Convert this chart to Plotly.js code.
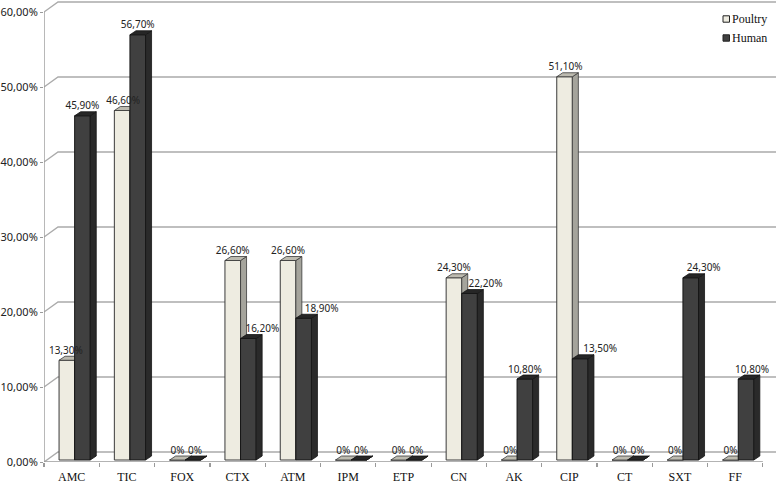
<!DOCTYPE html>
<html><head><meta charset="utf-8">
<script src="https://cdn.plot.ly/plotly-3.0.1.min.js"></script>
<style>html,body{margin:0;padding:0;background:#fff}</style></head>
<body><div id="chart" style="width:778px;height:485px"></div>
<script>
const categories = ["AMC","TIC","FOX","CTX","ATM","IPM","ETP","CN","AK","CIP","CT","SXT","FF"];
const poultry = [13.3,46.6,0,26.6,26.6,0,0,24.3,0,51.1,0,0,0];
const human = [45.9,56.7,0,16.2,18.9,0,0,22.2,10.8,13.5,0,24.3,10.8];
const yTicks = [0,10,20,30,40,50,60];
const yTickLabels = ["0,00%","10,00%","20,00%","30,00%","40,00%","50,00%","60,00%"];
const humanLabelNudge = [0,0,2,14,18,2,2,16,0,20,2,13,6];
const poultryLabelNudge = [-1,1,0,0,0,0,0,0,1,1,0,0,0];

const PXX = 55.3, PXY = 7.5;
const px = v => v / PXX, py = v => v / PXY;
const W = px(15.6), SHIFT = px(3), DX = px(6), DY = py(4), BASE = py(2);
const fmt = v => v === 0 ? "0%" : v.toFixed(2).replace(".", ",") + "%";
const cols = {p:{front:"#EEECE1",side:"#A5A49C",top:"#BDBBB0",line:"#3a3a3a"},
              h:{front:"#404040",side:"#2a2a2a",top:"#262626",line:"#151515"}};
const traces = [];

const gx=[], gy=[];
yTicks.forEach(v => { gx.push(0, px(14), 13.24, null); gy.push(v, v+py(10), v+py(10), null); });
traces.push({type:"scatter",mode:"lines",x:gx,y:gy,line:{color:"#ABABAB",width:1.4},hoverinfo:"skip",showlegend:false});
traces.push({type:"scatter",mode:"lines",x:[0,0,13],y:[60,0,0],line:{color:"#9A9A9A",width:1.4},hoverinfo:"skip",showlegend:false});

function series(vals,name,c,xa,ya,left){
  traces.push({type:"bar",name:name,x:vals.map((_,i)=>i+0.5+left+W/2),y:vals,base:vals.map(()=>BASE),width:W,
    marker:{color:c.front,line:{color:c.line,width:1}},xaxis:xa,yaxis:ya,hoverinfo:"skip",showlegend:false});
  const sx=[],sy=[],tx=[],ty=[];
  vals.forEach((v,i)=>{
    const x0=i+0.5+left, x1=x0+W, t=v+BASE;
    sx.push(x1,x1+DX,x1+DX,x1,x1,null); sy.push(BASE,BASE+DY,t+DY,t,BASE,null);
    tx.push(x0,x0+DX,x1+DX,x1,x0,null); ty.push(t,t+DY,t+DY,t,t,null);
  });
  const poly=(x,y,col)=>traces.push({type:"scatter",mode:"lines",x,y,fill:"toself",fillcolor:col,
    line:{color:c.line,width:0.8},xaxis:xa,yaxis:ya,hoverinfo:"skip",showlegend:false});
  poly(sx,sy,c.side); poly(tx,ty,c.top);
}
series(poultry,"Poultry",cols.p,"x2","y2",SHIFT-W);
series(human,"Human",cols.h,"x3","y3",SHIFT);

function labels(vals,left,nudge){
  traces.push({type:"scatter",mode:"text",x:vals.map((_,i)=>i+0.5+left+W/2+px(nudge[i])),
    y:vals.map(v=>v+BASE+py(4)),text:vals.map(fmt),textposition:"top center",
    textfont:{family:"Noto Sans, sans-serif",size:10,color:"#222"},xaxis:"x3",yaxis:"y3",hoverinfo:"skip",showlegend:false});
}
labels(poultry,SHIFT-W,poultryLabelNudge);
labels(human,SHIFT,humanLabelNudge);

const xr=[0,13.237], yr=[0,61.6];
const hidden = o => Object.assign({range:xr,visible:false,fixedrange:true},o);
const swatch=(y,col)=>({type:"rect",xref:"paper",yref:"paper",x0:(723-44)/732,x1:(729.5-44)/732,y0:(462-y-3.2)/462,y1:(462-y+3.2)/462,
  fillcolor:col,line:{color:"#222",width:1}});
const legendText=(y,t)=>({xref:"paper",yref:"paper",x:(730-44)/732,y:(462-y)/462,text:t,showarrow:false,xanchor:"left",yanchor:"middle",
  font:{family:"Liberation Serif, serif",size:12,color:"#111"}});
const layout = {
  width:778,height:485,margin:{l:44,r:2,t:0,b:23},paper_bgcolor:"#fff",plot_bgcolor:"#fff",
  barmode:"overlay",showlegend:false,
  xaxis:{range:xr,tickvals:categories.map((_,i)=>i+0.5),ticktext:categories,ticks:"",showgrid:false,zeroline:false,showline:false,
    tickfont:{family:"Liberation Serif, serif",size:12,color:"#111"},ticklabelstandoff:6,
    minor:{tickvals:categories.map((_,i)=>i).concat([13]),ticks:"outside",ticklen:4,tickcolor:"#9A9A9A",tickwidth:1.2,showgrid:false},fixedrange:true},
  yaxis:{range:yr,tickvals:yTicks,ticktext:yTickLabels,ticks:"outside",ticklen:3,tickcolor:"#9A9A9A",showgrid:false,zeroline:false,showline:false,
    tickfont:{family:"Noto Sans, sans-serif",size:11,color:"#222"},fixedrange:true},
  xaxis2:hidden({overlaying:"x"}), yaxis2:hidden({overlaying:"y",range:yr}),
  xaxis3:hidden({overlaying:"x"}), yaxis3:hidden({overlaying:"y",range:yr}),
  shapes:[swatch(19,cols.p.front),swatch(38,cols.h.front)],
  annotations:[legendText(19,"Poultry"),legendText(38,"Human")]
};
Plotly.newPlot("chart",traces,layout,{displayModeBar:false,staticPlot:true});
</script></body></html>
